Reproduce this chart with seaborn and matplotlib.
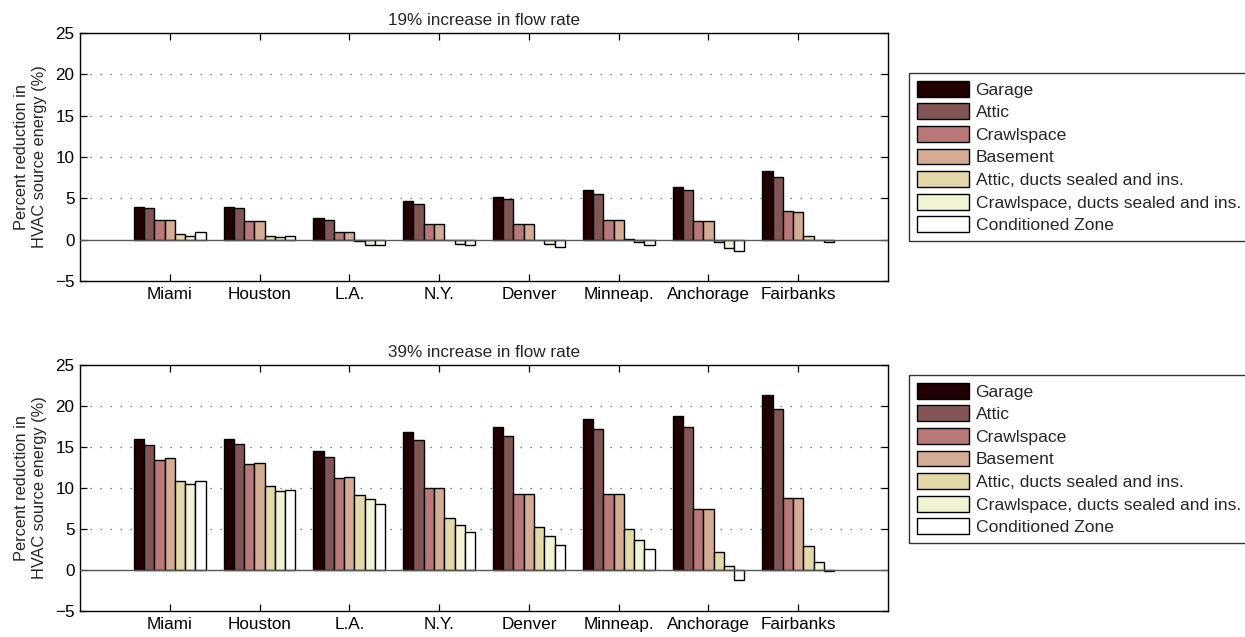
import matplotlib
matplotlib.use("Agg")
import matplotlib.pyplot as plt
import seaborn as sns
import pandas as pd

cities = ["Miami", "Houston", "L.A.", "N.Y.", "Denver", "Minneap.", "Anchorage", "Fairbanks"]
zones = ["Garage", "Attic", "Crawlspace", "Basement",
         "Attic, ducts sealed and ins.", "Crawlspace, ducts sealed and ins.", "Conditioned Zone"]
colors = ["#200000", "#825555", "#b97878", "#d4ac94", "#e2d8a8", "#f2f2d4", "#ffffff"]

# 19% increase in flow rate: one list per zone, values per city
top_garage = [4.0, 4.0, 2.6, 4.7, 5.2, 6.0, 6.4, 8.3]
top_attic = [3.8, 3.8, 2.4, 4.3, 4.9, 5.5, 6.0, 7.6]
top_crawl = [2.4, 2.2, 0.9, 1.9, 1.9, 2.4, 2.2, 3.5]
top_base = [2.4, 2.2, 0.9, 1.9, 1.9, 2.4, 2.2, 3.3]
top_attic_s = [0.7, 0.5, -0.2, -0.1, -0.1, 0.1, -0.3, 0.5]
top_crawl_s = [0.5, 0.3, -0.6, -0.5, -0.5, -0.3, -1.0, -0.1]
top_cond = [0.9, 0.5, -0.7, -0.7, -0.9, -0.7, -1.4, -0.3]

# 39% increase in flow rate
bot_garage = [16.0, 16.0, 14.5, 16.8, 17.5, 18.4, 18.8, 21.3]
bot_attic = [15.3, 15.4, 13.8, 15.8, 16.3, 17.2, 17.4, 19.6]
bot_crawl = [13.4, 12.9, 11.2, 10.0, 9.3, 9.3, 7.5, 8.8]
bot_base = [13.6, 13.1, 11.3, 10.0, 9.3, 9.3, 7.5, 8.8]
bot_attic_s = [10.8, 10.2, 9.1, 6.4, 5.3, 5.0, 2.2, 2.9]
bot_crawl_s = [10.5, 9.6, 8.6, 5.5, 4.1, 3.6, 0.5, 1.0]
bot_cond = [10.8, 9.8, 8.1, 4.6, 3.1, 2.6, -1.2, -0.1]

titles = ["19% increase in flow rate", "39% increase in flow rate"]
ylabel = "Percent reduction in\nHVAC source energy (%)"
yticks = [-5, 0, 5, 10, 15, 20, 25]


def long_frame(series):
    rows = []
    for zone, vals in zip(zones, series):
        for city, v in zip(cities, vals):
            rows.append({"city": city, "zone": zone, "value": v})
    return pd.DataFrame(rows)


df_top = long_frame([top_garage, top_attic, top_crawl, top_base, top_attic_s, top_crawl_s, top_cond])
df_bot = long_frame([bot_garage, bot_attic, bot_crawl, bot_base, bot_attic_s, bot_crawl_s, bot_cond])

sns.set_theme(style="white")
plt.rcParams["font.family"] = ["Liberation Sans", "DejaVu Sans"]
plt.rcParams["axes.linewidth"] = 1.0

fig = plt.figure(figsize=(12.45, 6.37), dpi=100)
W, H = 1245, 637
ax_top = fig.add_axes([80 / W, 1 - 281 / H, 808 / W, 248 / H])
ax_bot = fig.add_axes([80 / W, 1 - 611 / H, 808 / W, 246 / H])
legend_tops = [73, 375]

for ax, df, title, ltop in zip([ax_top, ax_bot], [df_top, df_bot], titles, legend_tops):
    sns.barplot(data=df, x="city", y="value", hue="zone", order=cities, hue_order=zones,
                palette=colors, saturation=1, width=0.8, edgecolor="black", linewidth=1.0,
                errorbar=None, ax=ax, zorder=3)
    ax.set_xlim(-1, 8)
    ax.set_ylim(-5, 25)
    ax.set_yticks(yticks)
    ax.set_yticklabels([str(t).replace("-", "\u2212") for t in yticks])
    ax.set_xlabel("")
    ax.set_ylabel(ylabel, fontsize=11.8, labelpad=6)
    ax.set_title(title, fontsize=12.3, pad=6)
    for g in [5, 10, 15, 20]:
        ax.axhline(g, color="0.35", lw=0.9, ls=(0, (1, 7)), zorder=1)
    ax.axhline(0, color="0.35", lw=1.0, zorder=4)
    ax.tick_params(axis="both", direction="in", length=5, width=0.9, labelsize=12.3,
                   top=True, right=True, bottom=True, left=True, colors="black", pad=4)
    ax.tick_params(axis="x", labeltop=False)
    for s in ax.spines.values():
        s.set_color("black")
        s.set_visible(True)
    ax.grid(False)
    ax.legend_.remove()
    handles, labels = ax.get_legend_handles_labels()
    leg = fig.legend(handles[:7], labels[:7], loc="upper left",
                     bbox_to_anchor=(909 / W, 1 - ltop / H), bbox_transform=fig.transFigure,
                     fontsize=12.6, frameon=True, fancybox=False, edgecolor="black",
                     handlelength=3.0, handleheight=1.0, labelspacing=0.33,
                     handletextpad=0.35, borderpad=0.45, borderaxespad=0)
    leg.get_frame().set_linewidth(1.0)

fig.savefig("out.png", dpi=100)
